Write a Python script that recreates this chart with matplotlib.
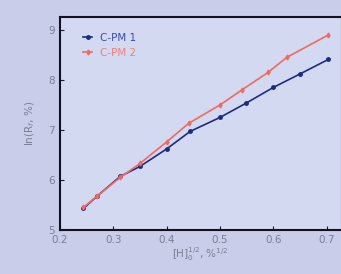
import matplotlib
matplotlib.use('Agg')
import matplotlib.pyplot as plt
import numpy as np

# data
x1 = [0.244, 0.270, 0.313, 0.350, 0.400, 0.444, 0.500, 0.548, 0.600, 0.650, 0.703]
y1 = [5.43, 5.68, 6.07, 6.27, 6.62, 6.97, 7.25, 7.53, 7.85, 8.12, 8.41]
x2 = [0.244, 0.270, 0.313, 0.350, 0.400, 0.441, 0.500, 0.541, 0.590, 0.625, 0.703]
y2 = [5.45, 5.68, 6.05, 6.33, 6.76, 7.13, 7.50, 7.80, 8.15, 8.45, 8.90]
labels = ['C-PM 1', 'C-PM 2']
xticks = [0.2, 0.3, 0.4, 0.5, 0.6, 0.7]
yticks = [5, 6, 7, 8, 9]

fig = plt.figure(figsize=(3.41, 2.74), dpi=100)
fig.patch.set_facecolor('#c9cde9')
ax = fig.add_axes([0.176, 0.161, 0.821, 0.777])
ax.set_facecolor('#d3d9f0')

ax.plot(x1, y1, '-o', color='#1f2a80', ms=2.5, lw=1.2, label=labels[0])
ax.plot(x2, y2, '-d', color='#ef6a62', ms=2.5, lw=1.2, label=labels[1])

ax.set_xlim(0.2, 0.725)
ax.set_ylim(5, 9.26)
ax.set_xticks(xticks)
ax.set_yticks(yticks)
ax.tick_params(direction='in', length=3, labelsize=7.5, labelcolor='#7a7f95', color='#1a1a2e')
for s in ['left', 'bottom', 'top']:
    ax.spines[s].set_linewidth(1.5)
    ax.spines[s].set_color('#111122')
ax.spines['right'].set_visible(False)

ax.set_xlabel('[H]$_0^{1/2}$, %$^{1/2}$', fontsize=7.5, color='#7a7f95', labelpad=1)
ax.set_ylabel('ln(R$_f$, %)', fontsize=7.5, color='#7a7f95', labelpad=8)

leg = ax.legend(loc='upper left', fontsize=7.5, frameon=False, handlelength=0.8,
                bbox_to_anchor=(0.05, 0.97))
for t, c in zip(leg.get_texts(), ['#3a4ab0', '#f08078']):
    t.set_color(c)

plt.savefig('out.png', dpi=100, facecolor=fig.get_facecolor())
